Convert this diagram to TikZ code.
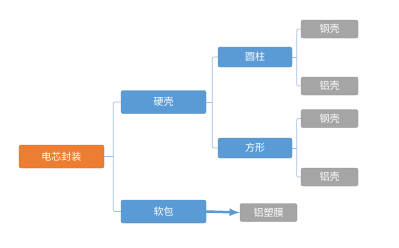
\documentclass[tikz,border=0pt]{standalone}
\usepackage{fontspec}
\usepackage{xcolor}
\usepackage{tikz}
\usetikzlibrary{calc,arrows,positioning}
\newfontfamily\cjk{Noto Sans CJK SC}
\definecolor{cRoot}{RGB}{237,125,49}
\definecolor{cBox}{RGB}{91,155,213}
\definecolor{cLeaf}{RGB}{165,165,165}
\definecolor{cLink}{RGB}{160,190,228}

\begin{document}
\begin{tikzpicture}[x=1pt,y=-1pt,font=\cjk\fontsize{10}{12}\selectfont,
  box/.style={fill=cBox,draw=cBox!85!black,line width=0.3pt,rounded corners=2pt,text=white,
    minimum width=85pt,minimum height=23pt,inner sep=0pt},
  leaf/.style={fill=cLeaf,draw=cLeaf!85!black,line width=0.3pt,rounded corners=2pt,text=white,
    minimum width=57pt,minimum height=18pt,inner sep=0pt},
  link/.style={cLink,line width=0.7pt,rounded corners=2pt}]
  \useasboundingbox (0,0) rectangle (399,247);
  % tree levels
  \node[box,fill=cRoot,draw=cRoot!85!black] (root) at (61.5,156.5) {电芯封装};
  \node[box] (hard) at (163.5,102) {硬壳};
  \node[box] (soft) at (163.5,211.5) {软包};
  \node[box,minimum width=74pt,minimum height=20pt] (cyl) at (255,57) {圆柱};
  \node[box,minimum width=74pt,minimum height=20pt] (sq) at (255,148) {方形};
  \node[leaf] (cylSt) at (329.5,29) {钢壳};
  \node[leaf] (cylAl) at (329.5,86) {铝壳};
  \node[leaf] (sqSt) at (329.5,118.5) {钢壳};
  \node[leaf] (sqAl) at (329.5,177) {铝壳};
  \node[leaf] (film) at (268.5,212.5) {铝塑膜};
  % elbow connectors
  \coordinate (j1) at ($(root.east)+(9,0)$);
  \draw[link] (root.east) -- (j1);
  \draw[link] (j1) |- (hard.west);
  \draw[link] (j1) |- (soft.west);
  \coordinate (j2) at ($(hard.east)+(6,0)$);
  \draw[link] (hard.east) -- (j2);
  \draw[link] (j2) |- (cyl.west);
  \draw[link] (j2) |- (sq.west);
  \coordinate (j3) at ($(cyl.east)+(4.5,0)$);
  \draw[link] (cyl.east) -- (j3);
  \draw[link] (j3) |- (cylSt.west);
  \draw[link] (j3) |- (cylAl.west);
  \coordinate (j4) at ($(sq.east)+(4.5,0)$);
  \draw[link] (sq.east) -- (j4);
  \draw[link] (j4) |- (sqSt.west);
  \draw[link] (j4) |- (sqAl.west);
  \draw[-latex,cBox,line width=2.5pt] (soft.east) -- (film.west);
\end{tikzpicture}
\end{document}
